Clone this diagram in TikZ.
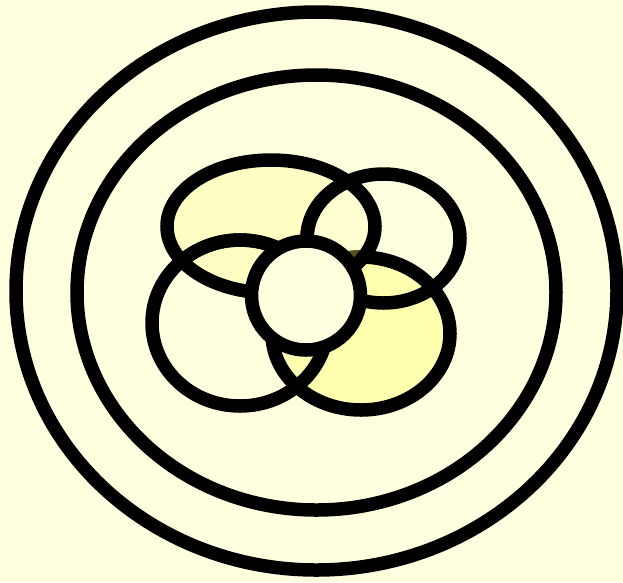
\documentclass[tikz,border=0pt]{standalone}
\begin{document}
\begin{tikzpicture}[x=1pt,y=-1pt,
  ring/.style={draw=black,line width=13.5pt},
]
\definecolor{bg}{RGB}{255,255,224}
\definecolor{yone}{RGB}{255,255,196}
\definecolor{ytwo}{RGB}{255,255,176}
\definecolor{dark}{RGB}{82,82,40}
\fill[bg] (0,0) rectangle (623,582);
\useasboundingbox (0,0) rectangle (623,582);
% fills
\fill[bg] (240,323) ellipse [x radius=88,y radius=83];
\fill[yone] (271,226.5) ellipse [x radius=104,y radius=66.5];
\fill[bg,opacity=0.5] (383.5,238.5) ellipse [x radius=76.5,y radius=64.5];
\fill[ytwo] (361,333.5) ellipse [x radius=89,y radius=76.5];
% strokes
\draw[ring] (316.5,291) ellipse [x radius=300.5,y radius=279];
\draw[ring] (316.5,292.5) ellipse [x radius=239.5,y radius=217.5];
\draw[ring] (383.5,238.5) ellipse [x radius=76.5,y radius=64.5];
\draw[ring] (240,323) ellipse [x radius=88,y radius=83];
\draw[ring] (361,333.5) ellipse [x radius=89,y radius=76.5];
\begin{scope}
  \clip (271,226.5) ellipse [x radius=97.25,y radius=59.75];
  \draw[ring,draw=dark] (361,333.5) ellipse [x radius=89,y radius=76.5];
  \draw[ring] (383.5,238.5) ellipse [x radius=76.5,y radius=64.5];
  \draw[ring] (240,323) ellipse [x radius=88,y radius=83];
\end{scope}
\draw[ring] (271,226.5) ellipse [x radius=104,y radius=66.5];
\draw[ring,fill=bg] (306,295.5) circle [radius=54.5];
\end{tikzpicture}
\end{document}
